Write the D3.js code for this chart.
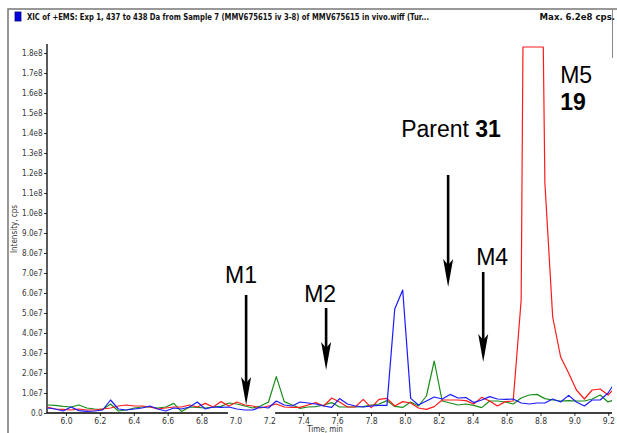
<!DOCTYPE html>
<html><head><meta charset="utf-8">
<script src="https://cdn.jsdelivr.net/npm/d3@7"></script>
<style>
html,body{margin:0;padding:0;background:#fff;}
svg{display:block;}
.tick text{font-family:"Liberation Sans Narrow","DejaVu Sans Condensed",sans-serif;}
</style></head>
<body><svg id="chart" width="617" height="433"></svg>
<script>
// ---- data (intensity in units of 1e7 cps) ----
const times = [5.890,5.937,5.983,6.030,6.076,6.123,6.170,6.216,6.263,6.309,6.356,6.403,6.449,6.496,6.542,6.589,6.636,6.682,6.729,6.775,6.822,6.869,6.915,6.962,7.008,7.055,7.102,7.148,7.195,7.241,7.288,7.335,7.381,7.428,7.474,7.521,7.568,7.614,7.661,7.707,7.754,7.801,7.847,7.894,7.940,7.987,8.034,8.080,8.127,8.173,8.220,8.267,8.313,8.360,8.406,8.453,8.500,8.546,8.593,8.639,8.686,8.733,8.779,8.826,8.872,8.919,8.966,9.012,9.059,9.105,9.152,9.199,9.245];
const redSeries = [0.30,0.20,0.18,0.15,0.20,0.15,0.15,0.20,0.25,0.35,0.40,0.35,0.35,0.30,0.20,0.25,0.30,0.30,0.40,0.30,0.48,0.30,0.57,0.35,0.55,0.40,0.35,0.25,0.35,0.45,0.30,0.28,0.28,0.40,0.52,0.35,0.75,0.55,0.30,0.30,0.68,0.27,0.68,0.73,0.35,0.57,0.50,0.25,0.18,0.32,0.65,0.65,0.65,0.62,0.45,0.78,0.60,0.35,0.57,0.60,5.65,62,45,11.5,4.8,2.8,2.0,1.15,0.70,1.15,1.20,0.90,1.30];
const blueSeries = [0.25,0.20,0.10,0.30,0.12,0.08,0.10,0.15,0.65,0.20,0.15,0.20,0.25,0.35,0.20,0.10,0.25,0.20,0.30,0.55,0.20,0.30,0.28,0.30,0.20,0.15,0.15,0.30,0.25,0.60,0.40,0.35,0.55,0.50,0.45,0.35,0.28,0.72,0.45,0.35,0.30,0.35,0.38,0.38,5.20,6.15,0.73,0.40,0.60,0.80,0.70,0.93,0.75,0.77,0.52,0.65,0.82,0.70,0.68,0.70,0.50,0.45,0.50,0.50,0.70,0.55,0.88,0.55,0.35,0.65,0.65,1.00,1.60];
const greenSeries = [0.40,0.38,0.33,0.30,0.40,0.25,0.20,0.18,0.45,0.10,0.15,0.25,0.30,0.30,0.25,0.30,0.48,0.07,0.30,0.28,0.25,0.30,0.33,0.50,0.45,0.35,0.25,0.35,0.55,1.82,0.57,0.40,0.23,0.30,0.32,0.40,0.52,0.30,0.30,0.30,0.32,0.40,0.45,0.62,0.33,0.28,0.55,0.35,0.85,2.60,0.60,0.50,0.40,0.45,0.38,0.27,0.60,0.60,0.55,0.45,0.75,0.90,0.93,0.72,0.65,0.60,0.62,0.60,0.60,0.70,0.90,0.55,0.70];
const xTicks = [6.0,6.2,6.4,6.6,6.8,7.0,7.2,7.4,7.6,7.8,8.0,8.2,8.4,8.6,8.8,9.0,9.2];
const yTicks = [0,1,2,3,4,5,6,7,8,9,10,11,12,13,14,15,16,17,18];
const titleText = "XIC of +EMS: Exp 1, 437 to 438 Da from Sample 7 (MMV675615 iv 3-8) of MMV675615 in vivo.wiff (Tur...";
const maxText = "Max. 6.2e8 cps.";
// annotation labels: time of arrow, text anchor, arrow top and tip (1e7 cps)
const annLabels = ["M1","M2","M4"];
const annTextT = [7.033, 7.50, 8.515];
const annTextY = [6.5, 5.55, 7.4];
const arrowT = [7.063, 7.535, 8.255, 8.462];
const arrowTop = [5.9, 5.25, 11.9, 7.05];
const arrowTip = [0.4, 2.15, 6.3, 2.55];

// ---- layout ----
const svg = d3.select("#chart");
const x = d3.scaleLinear().domain([5.888, 9.222]).range([47, 612]);
const y = d3.scaleLinear().domain([0, 18.3]).range([413, 47]);
const labelFont = '"Liberation Sans Narrow","DejaVu Sans Condensed",sans-serif';

svg.append("rect").attr("width",617).attr("height",433).attr("fill","#fff");

// frame
svg.append("path").attr("d","M8,433 L8,9 L617,9").attr("fill","none").attr("stroke","#777").attr("stroke-width",1.5);
svg.append("line").attr("x1",612.5).attr("x2",612.5).attr("y1",9).attr("y2",58).attr("stroke","#888").attr("stroke-width",1);

// title
svg.append("rect").attr("x",15).attr("y",12).attr("width",6).attr("height",9).attr("fill","#0000e0").attr("stroke","#000080").attr("stroke-width",0.8);
svg.append("text").attr("x",27).attr("y",20).attr("font-family",labelFont).attr("font-weight","bold").attr("font-size",9.5)
  .attr("textLength",402).attr("lengthAdjust","spacingAndGlyphs").attr("fill","#111").text(titleText);
svg.append("text").attr("x",615).attr("y",20).attr("text-anchor","end").attr("font-family",labelFont).attr("font-weight","bold").attr("font-size",9.5)
  .attr("fill","#111").text(maxText);

// axes
const fmtY = v => v === 0 ? "0.0" : (v < 10 ? v.toFixed(1) + "e7" : (v/10).toFixed(1) + "e8");
const yAxis = d3.axisLeft(y).tickValues(yTicks).tickFormat(fmtY).tickSize(3).tickPadding(1.5);
const gy = svg.append("g").attr("transform","translate(47,0)").call(yAxis);
gy.select(".domain").remove();
gy.selectAll("text").attr("font-size",8).attr("fill","#333");
gy.selectAll("line").attr("stroke","#333");
svg.append("line").attr("x1",47).attr("x2",47).attr("y1",44).attr("y2",413).attr("stroke","#000").attr("stroke-width",1.3);

const xAxis = d3.axisBottom(x).tickValues(xTicks).tickFormat(d3.format(".1f")).tickSize(3).tickPadding(2);
const gx = svg.append("g").attr("transform","translate(0,413)").call(xAxis);
gx.select(".domain").remove();
gx.selectAll("text").attr("font-size",8.5).attr("fill","#333");
gx.selectAll("line").attr("stroke","#333");
svg.append("line").attr("x1",47).attr("x2",612).attr("y1",413).attr("y2",413).attr("stroke","#000").attr("stroke-width",1.3);

svg.append("text").attr("x",325).attr("y",432).attr("text-anchor","middle").attr("font-family",labelFont).attr("font-size",8).attr("fill","#333").text("Time, min");
svg.append("text").attr("transform","translate(17,229) rotate(-90)").attr("text-anchor","middle").attr("font-family",labelFont).attr("font-size",8).attr("fill","#333").text("Intensity, cps");

// traces (clamped at top like the instrument software)
svg.append("clipPath").attr("id","plotclip").append("rect").attr("x",47).attr("y",0).attr("width",565).attr("height",414);
function clampedPoints(vals){
  const top = y.range()[1];
  const pts = times.map((t,i)=>[x(t), y(vals[i])]);
  const out = [];
  for (let i=0;i<pts.length;i++){
    if (i>0){
      const [x0,y0]=pts[i-1],[x1,y1]=pts[i];
      if ((y0<top)!==(y1<top)){
        const f=(top-y0)/(y1-y0);
        out.push([x0+f*(x1-x0), top]);
      }
    }
    out.push([pts[i][0], Math.max(pts[i][1], top)]);
  }
  return out;
}
const line = d3.line();
const series = [
  {vals: greenSeries, color:"#1a8c1a"},
  {vals: redSeries, color:"#ff1a1a"},
  {vals: blueSeries, color:"#1a1aff"}
];
const plot = svg.append("g").attr("clip-path","url(#plotclip)");
series.forEach(s=>{
  plot.append("path").attr("d", line(clampedPoints(s.vals))).attr("fill","none").attr("stroke",s.color).attr("stroke-width",1.2).attr("stroke-linejoin","round");
});

// pasted white patch over axis near 7.0-7.2
svg.append("rect").attr("x",x(6.95)+1).attr("y",411).attr("width",x(7.24)-x(6.95)-2).attr("height",6).attr("fill","#fff");

// annotations
const annFont = '"Liberation Sans",Arial,sans-serif';
annLabels.forEach((lab,i)=>{
  svg.append("text").attr("x",x(annTextT[i])).attr("y",y(annTextY[i])).attr("text-anchor","middle")
    .attr("font-family",annFont).attr("font-size",23).attr("fill","#000").text(lab);
});
const pt = svg.append("text").attr("x",x(7.978)).attr("y",y(13.8)).attr("font-family",annFont).attr("font-size",23).attr("fill","#000");
pt.append("tspan").text("Parent ");
pt.append("tspan").attr("font-weight","bold").text("31");
svg.append("text").attr("x",x(8.916)).attr("y",y(16.5)).attr("font-family",annFont).attr("font-size",23).attr("fill","#000").text("M5");
svg.append("text").attr("x",x(8.916)).attr("y",y(15.15)).attr("font-family",annFont).attr("font-size",23).attr("font-weight","bold").attr("fill","#000").text("19");

arrowT.forEach((t,i)=>{
  const ax = x(t), y0 = y(arrowTop[i]), yt = y(arrowTip[i]);
  const head = 28;
  svg.append("line").attr("x1",ax).attr("x2",ax).attr("y1",y0).attr("y2",yt-head+6).attr("stroke","#000").attr("stroke-width",2.6);
  svg.append("path").attr("d",`M${ax},${yt} L${ax-5},${yt-head} L${ax},${yt-head+6} L${ax+5},${yt-head} Z`).attr("fill","#000");
});
</script></body></html>
